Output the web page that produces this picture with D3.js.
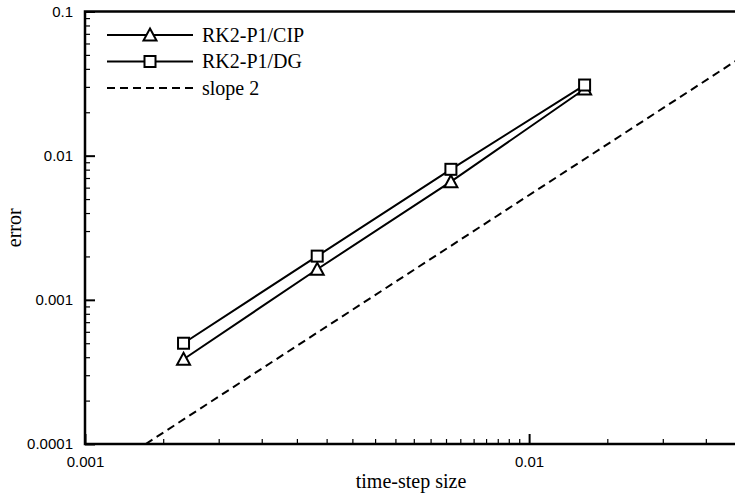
<!DOCTYPE html>
<html>
<head>
<meta charset="utf-8">
<script src="https://cdn.jsdelivr.net/npm/d3@7"></script>
<style>
  body { margin: 0; background: #fff; }
  svg { display: block; }
  .tick text { font-family: "Liberation Sans", Arial, sans-serif; font-size: 15px; fill: #000; }
  .serif { font-family: "Liberation Serif", "Times New Roman", serif; font-size: 20px; fill: #000; }
</style>
</head>
<body>
<div id="vis"></div>
<script>
const W = 735, H = 497;
const margin = { top: 11.5, right: -6, bottom: 53, left: 85 };
const width = W - margin.left - margin.right;
const height = H - margin.top - margin.bottom;

// time-step sizes
const dt = [0.0016667, 0.0033333, 0.0066667, 0.0133333];
const errCIP = [0.000387, 0.00163, 0.0066, 0.029];
const errDG = [0.0005, 0.00201, 0.00804, 0.0309];
// reference slope-2 line end points
const slopeX = [0.00137, 0.03];
const slopeY = [0.0001, 0.04795];

const xMajor = [0.001, 0.01];
const xMinor = [0.0015, 0.002, 0.0025, 0.003, 0.0035, 0.004, 0.0045, 0.005, 0.0055, 0.006,
  0.0065, 0.007, 0.0075, 0.008, 0.0085, 0.009, 0.0095, 0.015, 0.02, 0.025];
const yMajor = [0.0001, 0.001, 0.01, 0.1];
const yMinor = [0.0002, 0.0003, 0.0004, 0.0005, 0.0006, 0.0007, 0.0008, 0.0009,
  0.002, 0.003, 0.004, 0.005, 0.006, 0.007, 0.008, 0.009,
  0.02, 0.03, 0.04, 0.05, 0.06, 0.07, 0.08, 0.09];
const xLabels = ["0.001", "0.01"];
const yLabels = ["0.0001", "0.001", "0.01", "0.1"];
const seriesNames = ["RK2-P1/CIP", "RK2-P1/DG", "slope 2"];

const svg = d3.select("#vis").append("svg")
  .attr("width", W).attr("height", H)
  .append("g")
  .attr("transform", `translate(${margin.left},${margin.top})`);

const xScale = d3.scaleLog().domain([0.001, 0.03]).range([0, width]);
const yScale = d3.scaleLog().domain([0.0001, 0.1]).range([height, 0]);

svg.append("clipPath").attr("id", "clip")
  .append("rect").attr("width", width).attr("height", height);

// minor ticks
svg.append("g").attr("transform", `translate(0,${height})`)
  .call(d3.axisBottom(xScale).tickValues(xMinor).tickSize(-5).tickFormat(""))
  .call(g => g.select(".domain").remove())
  .call(g => g.selectAll("line").attr("stroke-width", 1.2));
svg.append("g")
  .call(d3.axisLeft(yScale).tickValues(yMinor).tickSize(-5).tickFormat(""))
  .call(g => g.select(".domain").remove())
  .call(g => g.selectAll("line").attr("stroke-width", 1.2));

// major ticks + labels
svg.append("g").attr("transform", `translate(0,${height})`)
  .call(d3.axisBottom(xScale).tickValues(xMajor).tickSize(-10).tickPadding(12)
    .tickFormat((d, i) => xLabels[i]))
  .call(g => g.select(".domain").remove())
  .call(g => g.selectAll("line").attr("stroke-width", 2));
svg.append("g")
  .call(d3.axisLeft(yScale).tickValues(yMajor).tickSize(-10).tickPadding(12)
    .tickFormat((d, i) => yLabels[i]))
  .call(g => g.select(".domain").remove())
  .call(g => g.selectAll("line").attr("stroke-width", 2));

// frame
svg.append("rect")
  .attr("width", width).attr("height", height)
  .attr("fill", "none").attr("stroke", "#000").attr("stroke-width", 2.5);

const line = d3.line().x(d => xScale(d[0])).y(d => yScale(d[1]));
const plot = svg.append("g").attr("clip-path", "url(#clip)");

plot.append("path")
  .datum(d3.zip(slopeX, slopeY))
  .attr("d", line)
  .attr("fill", "none").attr("stroke", "#000")
  .attr("stroke-width", 2).attr("stroke-dasharray", "8,5");

const series = [
  { name: seriesNames[0], values: d3.zip(dt, errCIP), marker: "tri" },
  { name: seriesNames[1], values: d3.zip(dt, errDG), marker: "sq" }
];

function drawMarker(g, type, x, y) {
  if (type === "sq") {
    g.append("rect")
      .attr("x", x - 5.5).attr("y", y - 5.5)
      .attr("width", 11).attr("height", 11)
      .attr("fill", "#fff").attr("stroke", "#000").attr("stroke-width", 2);
  } else {
    g.append("path")
      .attr("d", `M${x},${y - 6.5}L${x + 6.5},${y + 5.5}L${x - 6.5},${y + 5.5}Z`)
      .attr("fill", "#fff").attr("stroke", "#000").attr("stroke-width", 2)
      .attr("stroke-linejoin", "miter");
  }
}

series.forEach(s => {
  plot.append("path")
    .datum(s.values)
    .attr("d", line)
    .attr("fill", "none").attr("stroke", "#000").attr("stroke-width", 2);
});
series.forEach(s => {
  const g = plot.append("g");
  s.values.forEach(d => drawMarker(g, s.marker, xScale(d[0]), yScale(d[1])));
});

// legend
const legend = svg.append("g").attr("transform", "translate(22,23.5)");
const legendRows = [
  { name: seriesNames[0], marker: "tri", dash: null },
  { name: seriesNames[1], marker: "sq", dash: null },
  { name: seriesNames[2], marker: null, dash: "8,5" }
];
legendRows.forEach((r, i) => {
  const y = i * 26.5;
  legend.append("line")
    .attr("x1", 0).attr("x2", 86).attr("y1", y).attr("y2", y)
    .attr("stroke", "#000").attr("stroke-width", 2)
    .attr("stroke-dasharray", r.dash);
  if (r.marker) drawMarker(legend, r.marker, 43, y);
  legend.append("text")
    .attr("class", "serif")
    .attr("x", 95).attr("y", y + 6.5)
    .text(r.name);
});

// axis titles
svg.append("text")
  .attr("class", "serif")
  .attr("x", 326).attr("y", height + 44)
  .attr("text-anchor", "middle")
  .text("time-step size");

svg.append("text")
  .attr("class", "serif")
  .attr("transform", `translate(${-64},${height / 2}) rotate(-90)`)
  .attr("text-anchor", "middle")
  .text("error");
</script>
</body>
</html>
